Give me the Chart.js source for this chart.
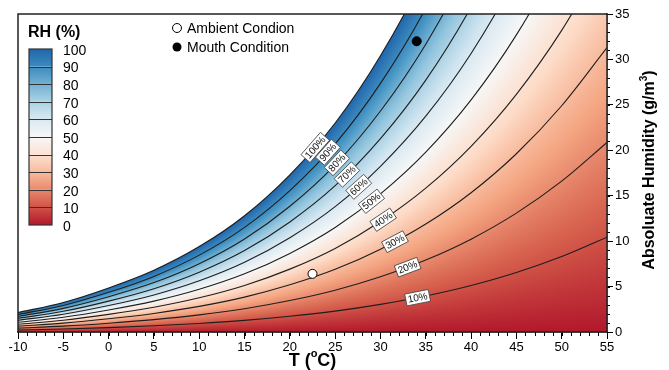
<!DOCTYPE html>
<html>
<head>
<meta charset="utf-8">
<script src="https://cdn.jsdelivr.net/npm/chart.js@4.4.1/dist/chart.umd.min.js"></script>
<style>
  body { margin: 0; background: #fff; }
  canvas { display: block; }
</style>
</head>
<body>
<canvas id="myChart" width="669" height="370"></canvas>
<script>
// Saturation curve (100% RH), g/m3 at each temperature
const temps = [-10, -5, 0, 5, 10, 15, 20, 25, 30, 35, 40, 45, 50, 55];
const satHumidity = [2.14, 3.25, 4.85, 6.8, 9.4, 12.8, 17.3, 23.0, 30.4, 39.6, 51.1, 65.4, 83.0, 104.3];

// Contour levels and where their labels sit (temperature along each line)
const rhLevels = [10, 20, 30, 40, 50, 60, 70, 80, 90, 100];
const labelTemps = [34.1, 33.0, 31.6, 30.3, 29.0, 27.6, 26.3, 25.2, 24.2, 22.8];

// Marked conditions
const ambientPoint = [{ x: 22.5, y: 6.4 }];
const mouthPoint = [{ x: 34, y: 32 }];

// Colour bar
const barLevels = [0, 10, 20, 30, 40, 50, 60, 70, 80, 90, 100];
const colorStops = [
    [0, [178, 24, 43]],
    [12.5, [214, 96, 77]],
    [25, [244, 165, 130]],
    [37.5, [253, 219, 199]],
    [50, [247, 247, 247]],
    [62.5, [209, 229, 240]],
    [75, [146, 197, 222]],
    [87.5, [67, 147, 195]],
    [100, [33, 102, 172]]
];

const FONT = "'Liberation Sans', Arial, Helvetica, sans-serif";

function rhColor(rh) {
    rh = Math.max(0, Math.min(100, rh));
    for (let i = 0; i < colorStops.length - 1; i++) {
        const [a, ca] = colorStops[i];
        const [b, cb] = colorStops[i + 1];
        if (rh <= b) {
            const t = (rh - a) / (b - a);
            return ca.map((c, k) => Math.round(c + (cb[k] - c) * t));
        }
    }
    return colorStops[colorStops.length - 1][1];
}

// same monotone tangents Chart.js uses, so the field lines up with the drawn curves
function monotoneTangents(xs, ys) {
    const n = xs.length;
    const d = [], m = [];
    for (let i = 0; i < n - 1; i++) d[i] = (ys[i + 1] - ys[i]) / (xs[i + 1] - xs[i]);
    for (let i = 0; i < n; i++) {
        if (i === 0) m[i] = d[0];
        else if (i === n - 1) m[i] = d[n - 2];
        else m[i] = (Math.sign(d[i - 1]) !== Math.sign(d[i])) ? 0 : (d[i - 1] + d[i]) / 2;
    }
    for (let i = 0; i < n - 1; i++) {
        if (Math.abs(d[i]) < 1e-12) { m[i] = m[i + 1] = 0; continue; }
        const a = m[i] / d[i], b = m[i + 1] / d[i];
        const sq = a * a + b * b;
        if (sq <= 9) continue;
        const tau = 3 / Math.sqrt(sq);
        m[i] = a * tau * d[i];
        m[i + 1] = b * tau * d[i];
    }
    return m;
}
const satTangents = monotoneTangents(temps, satHumidity);

function satAt(t) {
    let i = 0;
    while (i < temps.length - 2 && t > temps[i + 1]) i++;
    const h = temps[i + 1] - temps[i];
    const s = (t - temps[i]) / h;
    const s2 = s * s, s3 = s2 * s;
    return (2 * s3 - 3 * s2 + 1) * satHumidity[i] + (s3 - 2 * s2 + s) * h * satTangents[i]
        + (-2 * s3 + 3 * s2) * satHumidity[i + 1] + (s3 - s2) * h * satTangents[i + 1];
}

const rhField = {
    id: 'rhField',
    beforeDatasetsDraw(chart) {
        const { ctx, chartArea: a, scales: { x, y } } = chart;
        const x0 = Math.floor(a.left), y0 = Math.floor(a.top);
        const w = Math.ceil(a.right) - x0, h = Math.ceil(a.bottom) - y0;
        const off = document.createElement('canvas');
        off.width = w; off.height = h;
        const octx = off.getContext('2d');
        const img = octx.createImageData(w, h);
        for (let i = 0; i < w; i++) {
            const sat = satAt(x.getValueForPixel(x0 + i + 0.5));
            for (let j = 0; j < h; j++) {
                const ah = y.getValueForPixel(y0 + j + 0.5);
                const rh = ah / sat * 100;
                if (rh > 100 || ah < 0) continue;
                const c = rhColor(rh);
                const k = (j * w + i) * 4;
                img.data[k] = c[0]; img.data[k + 1] = c[1]; img.data[k + 2] = c[2]; img.data[k + 3] = 255;
            }
        }
        octx.putImageData(img, 0, 0);
        ctx.save();
        ctx.beginPath();
        ctx.rect(a.left, a.top, a.right - a.left, a.bottom - a.top);
        ctx.clip();
        ctx.drawImage(off, x0, y0);
        ctx.restore();
    }
};

const decorations = {
    id: 'decorations',
    afterDatasetsDraw(chart) {
        const { ctx, scales: { x, y } } = chart;
        // contour labels
        ctx.save();
        ctx.font = '10px ' + FONT;
        ctx.textAlign = 'center';
        ctx.textBaseline = 'middle';
        rhLevels.forEach((lvl, i) => {
            const t = labelTemps[i];
            const px = x.getPixelForValue(t);
            const py = y.getPixelForValue(satAt(t) * lvl / 100);
            const p1x = x.getPixelForValue(t - 0.2), p1y = y.getPixelForValue(satAt(t - 0.2) * lvl / 100);
            const p2x = x.getPixelForValue(t + 0.2), p2y = y.getPixelForValue(satAt(t + 0.2) * lvl / 100);
            const ang = Math.atan2(p2y - p1y, p2x - p1x);
            const txt = lvl + '%';
            const tw = ctx.measureText(txt).width + 4;
            ctx.save();
            ctx.translate(px, py);
            ctx.rotate(ang);
            ctx.fillStyle = '#fff';
            ctx.strokeStyle = '#444';
            ctx.lineWidth = 0.8;
            ctx.fillRect(-tw / 2, -6, tw, 12);
            ctx.strokeRect(-tw / 2, -6, tw, 12);
            ctx.fillStyle = '#111';
            ctx.fillText(txt, 0, 0.5);
            ctx.restore();
        });
        ctx.restore();
    },
    afterDraw(chart) {
        const { ctx, chartArea: a, scales: { x, y } } = chart;
        ctx.save();
        // minor ticks
        ctx.strokeStyle = '#000';
        ctx.lineWidth = 1;
        ctx.beginPath();
        for (let v = -10; v <= 55; v++) {
            const px = Math.round(x.getPixelForValue(v)) + 0.5;
            ctx.moveTo(px, a.bottom); ctx.lineTo(px, a.bottom + 4);
        }
        for (let v = 0; v <= 35; v++) {
            const py = Math.round(y.getPixelForValue(v)) + 0.5;
            ctx.moveTo(a.right, py); ctx.lineTo(a.right + 3, py);
        }
        ctx.stroke();
        // frame
        ctx.lineWidth = 1.5;
        ctx.strokeStyle = '#222';
        ctx.strokeRect(a.left, a.top, a.right - a.left, a.bottom - a.top);

        // colour bar legend
        const bx = 29, bw = 23, bTop = 49, bBot = 225;
        const seg = (bBot - bTop) / (barLevels.length - 1);
        for (let i = 0; i < barLevels.length - 1; i++) {
            const yb = bBot - i * seg, yt = yb - seg;
            const g = ctx.createLinearGradient(0, yb, 0, yt);
            g.addColorStop(0, 'rgb(' + rhColor(barLevels[i]).join(',') + ')');
            g.addColorStop(1, 'rgb(' + rhColor(barLevels[i + 1]).join(',') + ')');
            ctx.fillStyle = g;
            ctx.fillRect(bx, yt, bw, seg);
        }
        ctx.strokeStyle = '#333';
        ctx.lineWidth = 1;
        ctx.beginPath();
        for (let i = 1; i < barLevels.length - 1; i++) {
            const yy = Math.round(bBot - i * seg) + 0.5;
            ctx.moveTo(bx, yy); ctx.lineTo(bx + bw, yy);
        }
        ctx.stroke();
        ctx.lineWidth = 1.2;
        ctx.strokeRect(bx, bTop, bw, bBot - bTop);
        ctx.fillStyle = '#000';
        ctx.font = 'bold 16px ' + FONT;
        ctx.textAlign = 'left';
        ctx.textBaseline = 'alphabetic';
        ctx.fillText('RH (%)', 28, 37);
        ctx.font = '14px ' + FONT;
        ctx.textBaseline = 'middle';
        barLevels.forEach((v, i) => ctx.fillText(String(v), 63, bBot - i * seg + 2));

        // point legend
        ctx.lineWidth = 1;
        ctx.beginPath();
        ctx.arc(177, 28, 4.5, 0, Math.PI * 2);
        ctx.fillStyle = '#fff'; ctx.fill();
        ctx.strokeStyle = '#000'; ctx.stroke();
        ctx.beginPath();
        ctx.arc(177, 47, 4.5, 0, Math.PI * 2);
        ctx.fillStyle = '#000'; ctx.fill();
        ctx.font = '14px ' + FONT;
        ctx.fillText('Ambient Condion', 187, 29);
        ctx.fillText('Mouth Condition', 187, 48);

        // axis titles
        ctx.textBaseline = 'alphabetic';
        const p1 = 'T (', p3 = 'C)';
        ctx.font = 'bold 18px ' + FONT;
        const w1 = ctx.measureText(p1).width, w3 = ctx.measureText(p3).width;
        ctx.font = 'bold 11px ' + FONT;
        const w2 = ctx.measureText('o').width;
        let sx = (a.left + a.right) / 2 - (w1 + w2 + w3) / 2;
        ctx.font = 'bold 18px ' + FONT;
        ctx.fillText(p1, sx, 366);
        ctx.font = 'bold 11px ' + FONT;
        ctx.fillText('o', sx + w1, 357);
        ctx.font = 'bold 18px ' + FONT;
        ctx.fillText(p3, sx + w1 + w2, 366);

        ctx.translate(654, 170);
        ctx.rotate(-Math.PI / 2);
        ctx.font = 'bold 16px ' + FONT;
        const q1 = 'Absoluate Humidity (g/m', q3 = ')';
        const v1 = ctx.measureText(q1).width, v3 = ctx.measureText(q3).width;
        ctx.font = 'bold 10px ' + FONT;
        const v2 = ctx.measureText('3').width;
        sx = -(v1 + v2 + v3) / 2;
        ctx.font = 'bold 16px ' + FONT;
        ctx.fillText(q1, sx, 0);
        ctx.font = 'bold 10px ' + FONT;
        ctx.fillText('3', sx + v1, -7);
        ctx.font = 'bold 16px ' + FONT;
        ctx.fillText(q3, sx + v1 + v2, 0);
        ctx.restore();
    }
};

const lineDatasets = rhLevels.map(lvl => ({
    label: lvl + '%',
    data: temps.map((t, i) => ({ x: t, y: satHumidity[i] * lvl / 100 })),
    borderColor: '#1e1e1e',
    borderWidth: 1.1,
    pointRadius: 0,
    fill: false,
    cubicInterpolationMode: 'monotone'
}));

new Chart(document.getElementById('myChart').getContext('2d'), {
    type: 'line',
    data: {
        datasets: [
            {
                label: 'Ambient Condion',
                data: ambientPoint,
                showLine: false,
                pointRadius: 4.5,
                pointBackgroundColor: '#fff',
                pointBorderColor: '#000',
                pointBorderWidth: 1
            },
            {
                label: 'Mouth Condition',
                data: mouthPoint,
                showLine: false,
                pointRadius: 4.5,
                pointBackgroundColor: '#000',
                pointBorderColor: '#000',
                pointBorderWidth: 1
            },
            ...lineDatasets
        ]
    },
    options: {
        responsive: false,
        animation: false,
        layout: { padding: { left: 18, top: 14, right: 0, bottom: 0 } },
        elements: { line: { capBezierPoints: false } },
        plugins: { legend: { display: false }, tooltip: { enabled: false } },
        scales: {
            x: {
                type: 'linear',
                min: -10,
                max: 55,
                afterFit: s => { s.height = 38; },
                ticks: { stepSize: 5, color: '#000', font: { size: 13, family: FONT }, padding: 1, maxRotation: 0 },
                grid: { drawOnChartArea: false, tickLength: 7, tickColor: '#000' },
                border: { color: '#222', width: 1.5 }
            },
            y: {
                type: 'linear',
                position: 'right',
                min: 0,
                max: 35,
                afterFit: s => { s.width = 62; },
                ticks: { stepSize: 5, color: '#000', font: { size: 13, family: FONT }, padding: 2 },
                grid: { drawOnChartArea: false, tickLength: 6, tickColor: '#000' },
                border: { color: '#222', width: 1.5 }
            }
        }
    },
    plugins: [rhField, decorations]
});
</script>
</body>
</html>
